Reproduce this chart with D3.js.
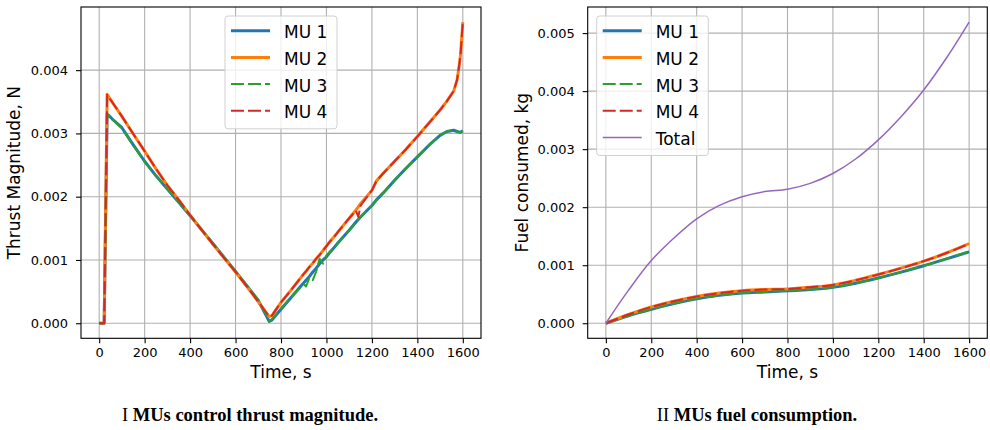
<!DOCTYPE html>
<html><head><meta charset="utf-8">
<script src="https://cdn.jsdelivr.net/npm/d3@7"></script>
<style>body{margin:0;background:#fff}svg{display:block}</style>
</head><body>
<svg id="c" width="990" height="430"></svg>
<script>
// ---- data ----
const thrustTime = [0,22,35,60,100,150,200,250,300,350,400,450,500,550,600,650,700,748,760,800,850,900,910,925,940,955,970,985,1000,1015,1030,1050,1100,1130,1140,1150,1200,1220,1250,1300,1350,1400,1450,1500,1530,1560,1575,1585,1590,1595,1600];
const thrustMU1 = [0,0,0.00331,0.00322,0.00309,0.00282,0.00256,0.00233,0.00212,0.00191,0.00170,0.00148,0.00126,0.00104,0.00082,0.00059,0.00036,0.00003,0.00005,0.00022,0.00043,0.00064,0.00068,0.00074,0.00081,0.00087,0.00094,0.00100,0.00105,0.00112,0.00118,0.00127,0.00147,0.00160,0.00164,0.00168,0.00186,0.00195,0.00206,0.00226,0.00245,0.00263,0.00281,0.00297,0.00303,0.00305,0.00303,0.00302,0.00302,0.00303,0.00304];
const thrustMU2 = [0,0,0.00362,0.00348,0.00327,0.00299,0.00272,0.00244,0.00218,0.00195,0.00171,0.00148,0.00125,0.00103,0.00081,0.00058,0.00034,0.000105,0.00012,0.00033,0.00055,0.00078,0.00082,0.00089,0.00095,0.00102,0.00108,0.00115,0.00122,0.00129,0.00135,0.00144,0.00166,0.00179,0.00184,0.00189,0.00210,0.00225,0.00237,0.00256,0.00275,0.00295,0.00316,0.00337,0.00351,0.00367,0.00385,0.00410,0.00425,0.00450,0.00476];
const thrustMU3 = [0,0,0.00330,0.00321,0.00308,0.00281,0.00255,0.00233,0.00212,0.00191,0.00170,0.00148,0.00127,0.00104,0.00082,0.00060,0.00037,0.00004,0.00006,0.00023,0.00043,0.00062,0.00058,0.00072,0.00068,0.00082,0.00102,0.00094,0.00107,0.00113,0.00117,0.00126,0.00147,0.00160,0.00164,0.00168,0.00186,0.00195,0.00206,0.00226,0.00245,0.00263,0.00281,0.00297,0.00303,0.00305,0.00303,0.00302,0.00302,0.00303,0.00304];
const thrustMU4 = [0,0,0.00361,0.00348,0.00327,0.00299,0.00272,0.00244,0.00218,0.00195,0.00171,0.00148,0.00125,0.00103,0.00081,0.00058,0.00034,0.000105,0.00012,0.00033,0.00055,0.00078,0.00082,0.00089,0.00095,0.00102,0.00108,0.00115,0.00122,0.00129,0.00135,0.00144,0.00166,0.00178,0.00168,0.00186,0.00210,0.00225,0.00237,0.00256,0.00275,0.00295,0.00316,0.00337,0.00351,0.00367,0.00385,0.00410,0.00425,0.00450,0.00476];

const fuelTime = [0,100,200,300,400,500,600,700,800,900,1000,1100,1200,1300,1400,1500,1600];
const fuelMU1 = [0,0.00013,0.00024,0.00034,0.00042,0.00048,0.00052,0.00054,0.00056,0.00058,0.00062,0.00069,0.00078,0.00088,0.00099,0.00111,0.00123];
const fuelMU2 = [0,0.00015,0.00028,0.00038,0.00046,0.00052,0.00056,0.00058,0.00059,0.00062,0.00066,0.00074,0.00084,0.00095,0.00107,0.00121,0.00137];
const fuelMU3 = [0,0.00013,0.00024,0.00034,0.00042,0.00048,0.00052,0.00054,0.00056,0.00058,0.00062,0.00069,0.00078,0.00088,0.00099,0.00111,0.00124];
const fuelMU4 = [0,0.00015,0.00028,0.00038,0.00046,0.00052,0.00056,0.00058,0.00059,0.00062,0.00066,0.00074,0.00084,0.00095,0.00107,0.00121,0.00137];
const fuelTotal = [0,0.00057,0.00108,0.00147,0.00180,0.00203,0.00218,0.00227,0.00231,0.00241,0.00258,0.00283,0.00316,0.00356,0.00402,0.00457,0.00519];

const xTicks = [0,200,400,600,800,1000,1200,1400,1600];
const thrustYTicks = [0,0.001,0.002,0.003,0.004];
const fuelYTicks = [0,0.001,0.002,0.003,0.004,0.005];
const seriesNames = ["MU 1","MU 2","MU 3","MU 4","Total"];
const captions = [["I ","MUs control thrust magnitude."],["II ","MUs fuel consumption."]];

// ---- styles ----
const styles = [
  {color:"#1f77b4", w:3, dash:null},
  {color:"#ff7f0e", w:3, dash:null},
  {color:"#2ca02c", w:2, dash:"13,4"},
  {color:"#d62728", w:2, dash:"13,4"},
  {color:"#9467bd", w:1.5, dash:null}
];
const tickFont = "DejaVu Sans, sans-serif";
const svg = d3.select("#c");

function panel(opt){
  const {left,right,top,bottom,times,series,yTicks,ylabel,ylabelX,legend,caption} = opt;
  const allVals = series.flat();
  const ymax = d3.max(allVals), ymin = 0;
  const pad = (ymax - ymin)*0.05;
  const x = d3.scaleLinear().domain([-80,1680]).range([left,right]);
  const y = d3.scaleLinear().domain([ymin-pad, ymax+pad]).range([bottom,top]);
  const g = svg.append("g");
  // grid
  g.append("g").selectAll("line").data(xTicks).join("line")
    .attr("x1",d=>x(d)).attr("x2",d=>x(d)).attr("y1",top).attr("y2",bottom)
    .attr("stroke","#b0b0b0").attr("stroke-width",1.1);
  g.append("g").selectAll("line").data(yTicks).join("line")
    .attr("y1",d=>y(d)).attr("y2",d=>y(d)).attr("x1",left).attr("x2",right)
    .attr("stroke","#b0b0b0").attr("stroke-width",1.1);
  // lines
  const clip = "clip"+Math.round(left);
  svg.append("clipPath").attr("id",clip).append("rect").attr("x",left).attr("y",top).attr("width",right-left).attr("height",bottom-top);
  const lg = g.append("g").attr("clip-path",`url(#${clip})`);
  series.forEach((vals,i)=>{
    const st = styles[i];
    const line = d3.line().x((d,j)=>x(times[j])).y(d=>y(d));
    if(opt.smooth) line.curve(d3.curveCatmullRom.alpha(0.5));
    lg.append("path").datum(vals).attr("d",line).attr("fill","none")
      .attr("stroke",st.color).attr("stroke-width",st.w)
      .attr("stroke-dasharray",st.dash).attr("stroke-linejoin","round");
  });
  // axes
  const xa = g.append("g").attr("transform",`translate(0,${bottom})`)
    .call(d3.axisBottom(x).tickValues(xTicks).tickFormat(d3.format("d")).tickSize(5).tickPadding(4));
  const ya = g.append("g").attr("transform",`translate(${left},0)`)
    .call(d3.axisLeft(y).tickValues(yTicks).tickFormat(d3.format(".3f")).tickSize(5).tickPadding(8));
  [xa,ya].forEach(a=>{
    a.select(".domain").remove();
    a.selectAll("line").attr("stroke","#000").attr("stroke-width",1.1);
    a.selectAll("text").attr("font-family",tickFont).attr("font-size",13).attr("fill","#000");
  });
  xa.selectAll("text").attr("dy","0.71em").attr("y",9);
  g.append("rect").attr("x",left).attr("y",top).attr("width",right-left).attr("height",bottom-top)
    .attr("fill","none").attr("stroke","#000").attr("stroke-width",1.1);
  // labels
  g.append("text").attr("x",(left+right)/2).attr("y",378).attr("text-anchor","middle")
    .attr("font-family",tickFont).attr("font-size",17).text("Time, s");
  g.append("text").attr("transform",`translate(${ylabelX},${(top+bottom)/2}) rotate(-90)`)
    .attr("text-anchor","middle").attr("font-family",tickFont).attr("font-size",17).text(ylabel);
  // legend
  const L = legend;
  const n = series.length;
  g.append("rect").attr("x",L.x).attr("y",L.y).attr("width",L.w).attr("height",n*26.7+6)
    .attr("rx",3).attr("fill","#fff").attr("fill-opacity",0.8).attr("stroke","#d0d0d0").attr("stroke-width",1);
  for(let i=0;i<n;i++){
    const st = styles[i];
    const ly = L.y + 14.7 + i*26.7;
    g.append("line").attr("x1",L.x+6).attr("x2",L.x+45).attr("y1",ly).attr("y2",ly)
      .attr("stroke",st.color).attr("stroke-width",st.w).attr("stroke-dasharray",st.dash);
    g.append("text").attr("x",L.x+59).attr("y",ly+7.6).attr("font-family",tickFont).attr("font-size",17)
      .text(seriesNames[i]);
  }
  // caption
  const t = g.append("text").attr("x",opt.capX).attr("y",421).attr("text-anchor","middle")
    .attr("font-family","Liberation Serif, Times New Roman, serif").attr("font-size",18.5);
  t.append("tspan").text(caption[0]);
  t.append("tspan").attr("font-weight","bold").text(caption[1]);
}

panel({left:81,right:481,top:7,bottom:338.3,times:thrustTime,
  series:[thrustMU1,thrustMU2,thrustMU3,thrustMU4],yTicks:thrustYTicks,
  ylabel:"Thrust Magnitude, N",ylabelX:20,legend:{x:225,y:16,w:112},caption:captions[0],capX:250,smooth:false});
panel({left:587.7,right:987.3,top:7,bottom:338.3,times:fuelTime,
  series:[fuelMU1,fuelMU2,fuelMU3,fuelMU4,fuelTotal],yTicks:fuelYTicks,
  ylabel:"Fuel consumed, kg",ylabelX:528,legend:{x:596.7,y:16,w:111.6},caption:captions[1],capX:757,smooth:true});
</script>
</body></html>
